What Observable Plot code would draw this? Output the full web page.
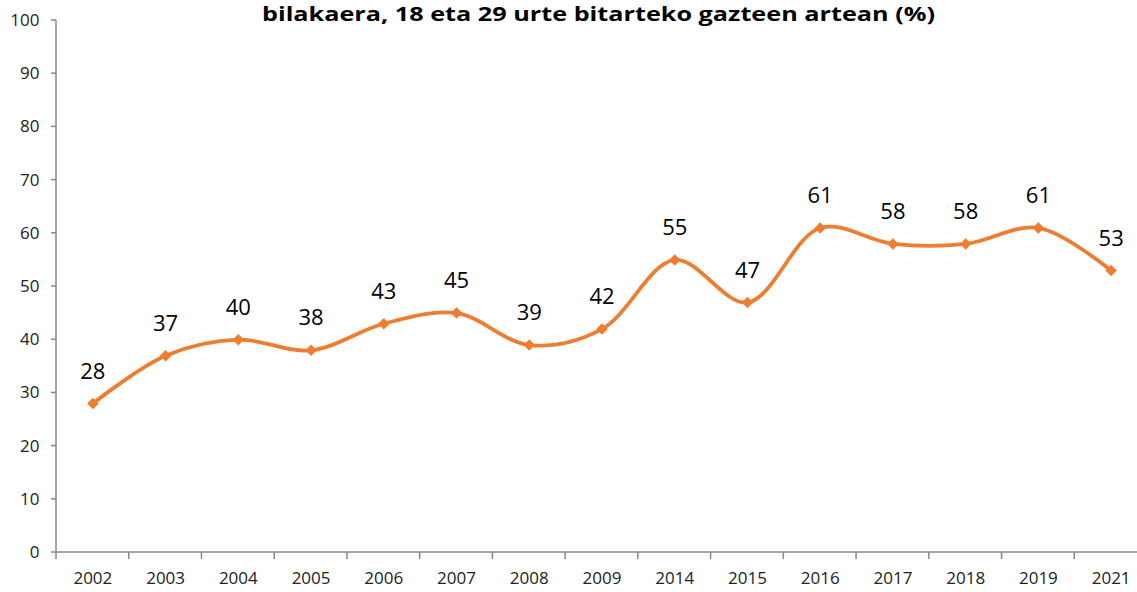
<!DOCTYPE html>
<html>
<head>
<meta charset="utf-8">
<script src="https://cdn.jsdelivr.net/npm/d3@7"></script>
<script src="https://cdn.jsdelivr.net/npm/@observablehq/plot@0.6"></script>
<style>
  html, body { margin: 0; padding: 0; background: #fff; }
  #wrap { position: relative; width: 1137px; height: 592px; overflow: hidden; }
  #title { position: absolute; left: 0; top: 0; }
  svg { font-family: "Open Sans", sans-serif; }
</style>
</head>
<body>
<div id="wrap">
  <div id="chart"></div>
  <svg id="title" width="1137" height="34"></svg>
</div>
<script>
const titleText = "bilakaera, 18 eta 29 urte bitarteko gazteen artean (%)";
const years = ["2002","2003","2004","2005","2006","2007","2008","2009","2014","2015","2016","2017","2018","2019","2021"];
const values = [28, 37, 40, 38, 43, 45, 39, 42, 55, 47, 61, 58, 58, 61, 53];
const yTicks = [0, 10, 20, 30, 40, 50, 60, 70, 80, 90, 100];

const data = years.map((y, i) => ({year: y, value: values[i]}));
const orange = "#ED7D31";
const axisColor = "#888888";

function axisLines(index, scales, values, dimensions) {
  const x = scales.x, y = scales.y;
  const step = x(years[1]) - x(years[0]);
  const g = d3.create("svg:g").attr("stroke", axisColor).attr("stroke-width", 1.5).attr("fill", "none");
  const y0 = y(0), y100 = y(100);
  const left = x(years[0]);
  const right = x(years[years.length - 1]) + step;
  g.append("line").attr("x1", left).attr("x2", left).attr("y1", y100).attr("y2", y0);
  g.append("line").attr("x1", left).attr("x2", right).attr("y1", y0).attr("y2", y0);
  const bounds = years.map(d => x(d)).concat([right]);
  for (const b of bounds) {
    g.append("line").attr("x1", b).attr("x2", b).attr("y1", y0).attr("y2", y0 + 7);
  }
  for (const t of yTicks) {
    g.append("line").attr("x1", left - 5).attr("x2", left).attr("y1", y(t)).attr("y2", y(t));
  }
  return g.node();
}

const chart = Plot.plot({
  width: 1137,
  height: 592,
  marginLeft: 56,
  marginTop: 20,
  marginBottom: 40,
  marginRight: 0,
  style: {fontFamily: "Open Sans, sans-serif", background: "#fff"},
  x: {type: "band", domain: years, range: [56, 1147], padding: 0, round: false},
  y: {domain: [0, 100], range: [552, 20]},
  marks: [
    Plot.axisY({ticks: yTicks, tickSize: 0, tickPadding: 17, fontSize: 17, fill: "#222", label: null}),
    Plot.axisX({tickSize: 0, tickPadding: 19, fontSize: 17, fill: "#222", label: null}),
    axisLines,
    Plot.line(data, {x: "year", y: "value", stroke: orange, strokeWidth: 3.8, curve: "catmull-rom"}),
    Plot.dot(data, {x: "year", y: "value", symbol: "square", rotate: 45, r: 4.6, fill: orange, stroke: "none"}),
    Plot.text(data, {x: "year", y: "value", text: d => String(d.value), dy: -32, fontSize: 22, fill: "#000"})
  ]
});
document.getElementById("chart").appendChild(chart);

d3.select("#title").append("text")
  .attr("x", 262).attr("y", 21)
  .attr("textLength", 673).attr("lengthAdjust", "spacingAndGlyphs")
  .attr("font-family", "Open Sans, sans-serif").attr("font-weight", "bold")
  .attr("font-size", 19.5).attr("fill", "#000")
  .text(titleText);
</script>
</body>
</html>
